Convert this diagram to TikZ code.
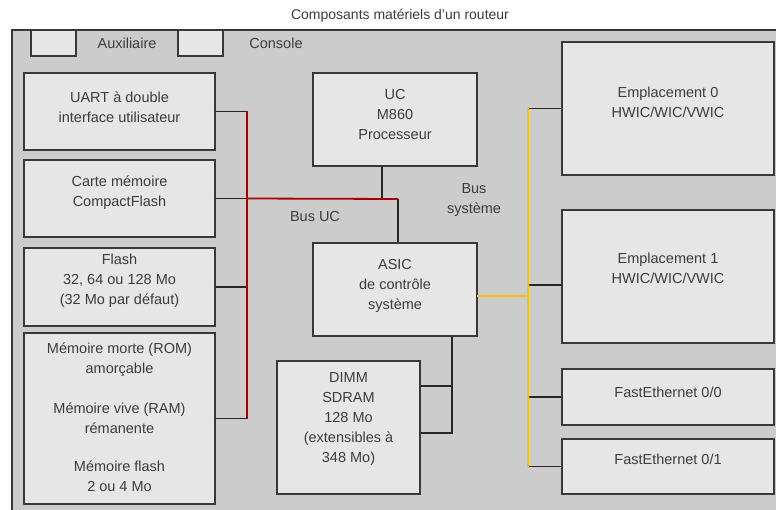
\documentclass[tikz,border=0pt]{standalone}
\usepackage{fontspec}
\setmainfont{Liberation Sans}
\usepackage{xcolor}
\usetikzlibrary{positioning,calc}

\definecolor{framegray}{HTML}{CCCCCC}
\definecolor{boxgray}{HTML}{E6E6E6}
\definecolor{edgegray}{HTML}{383838}
\definecolor{txtgray}{HTML}{3C3C3C}
\definecolor{cpured}{HTML}{A80000}
\definecolor{sysyellow}{HTML}{F7C200}

\begin{document}
\begin{tikzpicture}[
    x=1pt, y=-1pt,
    blk/.style={draw=edgegray, fill=boxgray, line width=1.2pt, inner sep=0pt},
    txt/.style={text=txtgray, font=\fontsize{14.5}{20}\selectfont, align=center, inner sep=0pt},
    link/.style={draw=black!85, line width=1.8pt},
    cpubus/.style={draw=cpured, line width=1.8pt},
    sysbus/.style={draw=sysyellow, line width=1.8pt}
]

\useasboundingbox (0,0) rectangle (776,510);
\clip (0,0) rectangle (776,510);

% ---- Frame ----
\draw[edgegray, fill=framegray, line width=1.4pt] (12,30) rectangle (800,530);
\node[txt, font=\fontsize{14}{18}\selectfont] (title) at (400,16) {Composants matériels d’un routeur};

% ---- Ports ----
\node[blk, minimum width=45, minimum height=26] (aux) at (53.5,43) {};
\node[txt] (auxT) at (127,43) {Auxiliaire};
\node[blk, minimum width=45, minimum height=26] (con) at (200.5,43) {};
\node[txt] (conT) at (276,43) {Console};

% ---- Left column ----
\node[blk, minimum width=191, minimum height=77] (uart) at (119.5,111.5) {};
\node[txt] (uartT) at (119.5,107) {UART à double\\ interface utilisateur};
\node[blk, minimum width=191, minimum height=77] (card) at (119.5,198.5) {};
\node[txt] (cardT) at (119.5,193) {Carte mémoire\\ CompactFlash};
\node[blk, minimum width=191, minimum height=78] (flash) at (119.5,287) {};
\node[txt] (flashT) at (119.5,280.5) {Flash\\ 32, 64 ou 128 Mo\\ (32 Mo par défaut)};
\node[blk, minimum width=191, minimum height=171] (rom) at (119.5,418.5) {};
\node[txt] (romT) at (119.5,417) {Mémoire morte (ROM)\\ amorçable\\[20pt] Mémoire vive (RAM)\\ rémanente\\[18pt] Mémoire flash\\ 2 ou 4 Mo};

% ---- Middle column ----
\node[blk, minimum width=164, minimum height=93] (uc) at (395,119.5) {};
\node[txt] (ucT) at (395,115) {UC\\ M860\\ Processeur};
\node[blk, minimum width=164, minimum height=93] (asic) at (395,289.5) {};
\node[txt] (asicT) at (395,286) {ASIC\\ de contrôle\\ système};
\node[blk, minimum width=143, minimum height=133] (dimm) at (348.5,427.5) {};
\node[txt] (dimmT) at (348.5,419) {DIMM\\ SDRAM\\ 128 Mo\\ (extensibles à\\ 348 Mo)};

% ---- Right column ----
\node[blk, minimum width=212, minimum height=133] (emp0) at (668,108.5) {};
\node[txt] (emp0T) at (668,102) {Emplacement 0\\ HWIC/WIC/VWIC};
\node[blk, minimum width=212, minimum height=133] (emp1) at (668,276.5) {};
\node[txt] (emp1T) at (668,268) {Emplacement 1\\ HWIC/WIC/VWIC};
\node[blk, minimum width=212, minimum height=56] (fe0) at (668,397) {};
\node[txt] (fe0T) at (668,392) {FastEthernet 0/0};
\node[blk, minimum width=212, minimum height=55] (fe1) at (668,466.5) {};
\node[txt] (fe1T) at (668,459) {FastEthernet 0/1};

% ---- Bus labels ----
\node[txt] (busUC) at (315,217) {Bus UC};
\node[txt] (busSys) at (474,200) {Bus\\ système};

% Relations
\coordinate (cb) at (247,110);
\coordinate (cj) at (398,199);
\coordinate (sb) at (528,110);
\coordinate (dj) at (452,433);
\coordinate (ucP) at (382,166);
\coordinate (asicP) at (477,296);
\coordinate (emp1P) at (562,285);
\coordinate (dimmP) at (420,386);

\draw[link] (uart.east) -- (uart.east -| cb);
\draw[link] (card.east) -- (card.east -| cb);
\draw[link] (flash.east) -- (flash.east -| cb);
\draw[link] (rom.east) -- (rom.east -| cb);
\draw[link] (ucP) -- (ucP |- cj);
\draw[link] (cj) -- (cj |- asic.north);
\draw[cpubus] (uart.east -| cb) -- (rom.east -| cb);
\draw[cpubus] (card.east -| cb) -- (cj);

\draw[link] (emp0.west) -- (emp0.west -| sb);
\draw[link] (emp1P) -- (sb |- emp1P);
\draw[link] (fe0.west) -- (fe0.west -| sb);
\draw[link] (fe1.west) -- (fe1.west -| sb);
\draw[sysbus] (asicP) -- (sb |- asicP);
\draw[sysbus] (emp0.west -| sb) -- (fe1.west -| sb);

\draw[link] (asic.south -| dj) -- (dj) -- (dj -| dimm.east);
\draw[link] (dimmP) -- (dimmP -| dj);
\end{tikzpicture}
\end{document}
